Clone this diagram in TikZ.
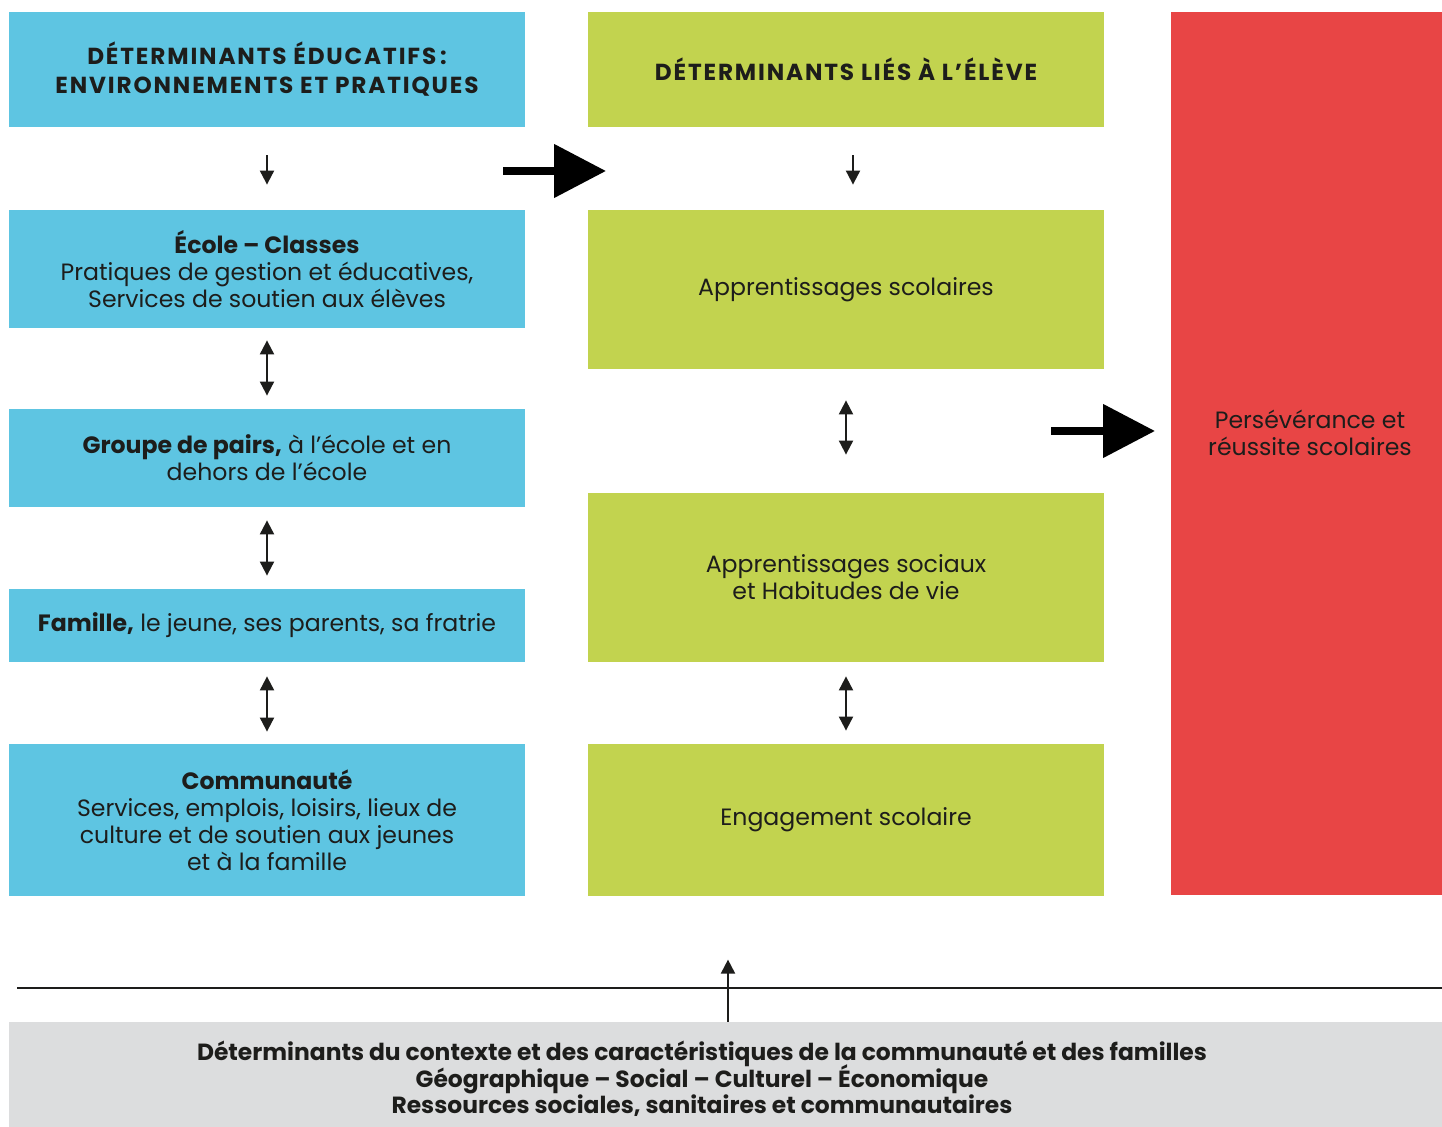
\documentclass[tikz,border=0pt]{standalone}
\usepackage{fontspec}
\setmainfont{Poppins}
\usepackage{tikz}
\usetikzlibrary{arrows.meta}

\definecolor{bleu}{HTML}{5EC5E2}
\definecolor{vert}{HTML}{C2D34F}
\definecolor{rouge}{HTML}{E84545}
\definecolor{gris}{HTML}{DCDDDE}
\definecolor{encre}{HTML}{1D1D1B}

\newcommand\serre{\lineskiplimit-10pt\relax}

\tikzset{
  boite/.style={inner sep=0pt, align=center, text=encre, font=\fontsize{11.8}{13.5}\selectfont\serre},
  boitebleue/.style={boite, fill=bleu, minimum width=258pt},
  boiteverte/.style={boite, fill=vert, minimum width=258pt},
  titre/.style={font=\fontsize{11.6}{14.5}\selectfont\bfseries\addfontfeatures{LetterSpace=8}\serre},
  fleche/.style={-{Triangle[length=7pt,width=7pt]}, line width=1pt, draw=encre},
  dfleche/.style={{Triangle[length=7pt,width=7pt]}-{Triangle[length=7pt,width=7pt]}, line width=1pt, draw=encre},
  grosse/.style={-{Triangle[length=26pt,width=26pt]}, line width=4pt, draw=black}
}

\begin{document}
\begin{tikzpicture}[x=0.5pt, y=-0.5pt]
	\useasboundingbox (0,0) rectangle (1442,1127);
	
	% colonne de gauche
	\node[boitebleue, titre, minimum height=57.5pt] (bhead) at (267,69.5) {DÉTERMINANTS ÉDUCATIFS\,:\\ENVIRONNEMENTS ET PRATIQUES};
	\node[boitebleue, minimum height=59pt] (ecole) at (267,269) {\textbf{École – Classes}\\Pratiques de gestion et éducatives,\\Services de soutien aux élèves};
	\node[boitebleue, minimum height=49pt] (groupe) at (267,458) {\textbf{Groupe de pairs,} à l’école et en\\dehors de l’école};
	\node[boitebleue, minimum height=36.5pt] (famille) at (267,625.5) {\textbf{Famille,} le jeune, ses parents, sa fratrie};
	\node[boitebleue, minimum height=76pt] (commu) at (267,820) {\textbf{Communauté}\\Services, emplois, loisirs, lieux de\\culture et de soutien aux jeunes\\et à la famille};
	
	% colonne du milieu
	\node[boiteverte, titre, minimum height=57.5pt] (ghead) at (846,69.5) {DÉTERMINANTS LIÉS À L’ÉLÈVE};
	\node[boiteverte, minimum height=79.5pt] (scol) at (846,289.5) {Apprentissages scolaires};
	\node[boiteverte, minimum height=84.5pt] (soc) at (846,577.5) {Apprentissages sociaux\\et Habitudes de vie};
	\node[boiteverte, minimum height=76pt] (engag) at (846,820) {Engagement scolaire};
	
	% colonne de droite
	\node[boite, fill=rouge, minimum width=135.5pt, minimum height=441.5pt] (reussite) at (1306.5,453.5) {};
	\node[boite] (reussitetxt) at (1310,433) {Persévérance et\\réussite scolaires};
	
	% contexte
	\node[boite, fill=gris, minimum width=716.5pt, minimum height=52.5pt] (ctx) at (725.5,1074.5) {};
	\node[boite, font=\fontsize{11.7}{13.25}\selectfont\bfseries\serre] (ctxtxt) at (702,1079) {Déterminants du contexte et des caractéristiques de la communauté et des familles\\Géographique – Social – Culturel – Économique\\Ressources sociales, sanitaires et communautaires};
	\draw[line width=1pt, encre] (17,988) -- (1442,988);
	
	% fleches
	\draw[fleche, shorten <=14pt, shorten >=12.5pt] (bhead.south) -- (ecole.north);
	\draw[dfleche, shorten <=6pt, shorten >=6.5pt] (ecole.south) -- (groupe.north);
	\draw[dfleche, shorten <=6.5pt, shorten >=6.5pt] (groupe.south) -- (famille.north);
	\draw[dfleche, shorten <=7pt, shorten >=6pt] (famille.south) -- (commu.north);
	
	\draw[fleche, shorten <=14pt, shorten >=12.5pt] ([xshift=3.5pt]ghead.south) -- ([xshift=3.5pt]scol.north);
	\draw[dfleche, shorten <=15.5pt, shorten >=19pt] (scol.south) -- (soc.north);
	\draw[dfleche, shorten <=7pt, shorten >=6.5pt] (soc.south) -- (engag.north);
	
	\coordinate (g1) at (503,171);
	\coordinate (g2) at (606,171);
	\draw[grosse] (g1) -- (g2);
	\coordinate (g3) at (1051,431);
	\coordinate (g4) at (1155,431);
	\draw[grosse] (g3) -- (g4);
	
	\draw[fleche] ([xshift=1.25pt]ctx.north) -- ++(0,-62);
\end{tikzpicture}
\end{document}
